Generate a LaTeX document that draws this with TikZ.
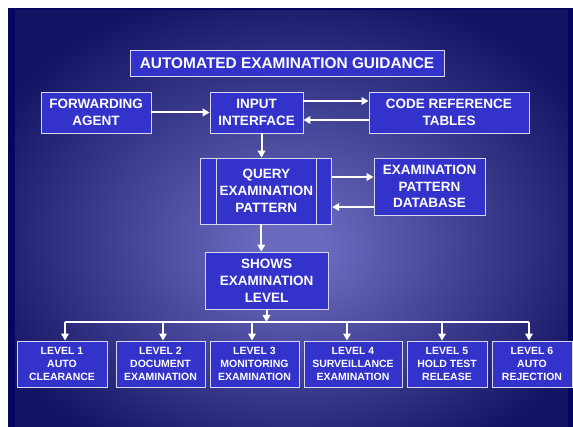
\documentclass[tikz,border=0pt]{standalone}
\usepackage{fontspec}
\setmainfont{Liberation Sans}
\usetikzlibrary{arrows.meta,positioning,calc}
\definecolor{bgdark}{RGB}{20,20,100}
\definecolor{bglight}{RGB}{106,106,190}
\definecolor{bgframe}{RGB}{6,6,96}
\definecolor{boxblue}{RGB}{51,51,204}
\definecolor{boxline}{RGB}{215,215,240}
\pgfdeclareradialshading{bgglow}{\pgfpoint{0bp}{-4bp}}{color(0bp)=(bglight); color(3bp)=(bglight); color(30bp)=(bgdark); color(50bp)=(bgdark)}

\begin{document}
\begin{tikzpicture}[x=1pt,y=-1pt,>={Triangle[length=7pt,width=7.5pt]},box/.style={draw=boxline,fill=boxblue,line width=0.8pt,text=white,font=\bfseries\fontsize{13.5}{16.8}\selectfont,align=center,inner sep=0pt},lvl/.style={box,font=\bfseries\fontsize{10.5}{12.8}\selectfont,minimum height=46pt},link/.style={white,line width=2pt}]
  \useasboundingbox (0,0) rectangle (573,427);
  \fill[white] (0,0) rectangle (573,427);
  \fill[bgframe] (8,8) rectangle (573,427);
  \shade[shading=bgglow] (15,11) rectangle (568,427);
  \node[box,minimum width=314pt,minimum height=26pt,font=\bfseries\fontsize{15.4}{18}\selectfont] (title) at (287,63) {AUTOMATED EXAMINATION GUIDANCE};
  \node[box,minimum width=110pt,minimum height=41pt] (fwd) at (96,112.5) {FORWARDING\\AGENT};
  \node[box,minimum width=93pt,minimum height=41pt] (input) at (256.5,112.5) {INPUT\\INTERFACE};
  \node[box,minimum width=160pt,minimum height=41pt] (code) at (449,112.5) {CODE REFERENCE\\TABLES};
  \node[box,minimum width=131pt,minimum height=66pt] (query) at (266.3,191) {QUERY\\EXAMINATION\\PATTERN};
  \node[box,minimum width=111pt,minimum height=57pt] (db) at (429.5,186.5) {EXAMINATION\\PATTERN\\DATABASE};
  \node[box,minimum width=123pt,minimum height=57pt] (shows) at (266.5,280.5) {SHOWS\\EXAMINATION\\LEVEL};
  \node[lvl,minimum width=90pt] (l1) at (62,364) {LEVEL 1\\AUTO\\CLEARANCE};
  \node[lvl,minimum width=89pt] (l2) at (160.5,364) {LEVEL 2\\DOCUMENT\\EXAMINATION};
  \node[lvl,minimum width=89pt] (l3) at (254.5,364) {LEVEL 3\\MONITORING\\EXAMINATION};
  \node[lvl,minimum width=98pt] (l4) at (353,364) {LEVEL 4\\SURVEILLANCE\\EXAMINATION};
  \node[lvl,minimum width=80pt] (l5) at (447,364) {LEVEL 5\\HOLD TEST\\RELEASE};
  \node[lvl,minimum width=80pt] (l6) at (532,364) {LEVEL 6\\AUTO\\REJECTION};
  \draw[boxline,line width=0.8pt] ($(query.north west)+(16,0)$) -- ($(query.south west)+(16,0)$);
  \draw[boxline,line width=0.8pt] ($(query.north east)+(-16,0)$) -- ($(query.south east)+(-16,0)$);
  \draw[link,->] (fwd.east) -- (input.west);
  \draw[link,->] ($(input.east)+(0,-11.5)$) -- ($(input.east -| code.west)+(0,-11.5)$);
  \draw[link,->] ($(code.west)+(0,7.5)$) -- ($(input.east |- code.west)+(0,7.5)$);
  \draw[link,->] ($(query.east)+(0,-14)$) -- ($(query.east -| db.west)+(0,-14)$);
  \draw[link,->] ($(query.east -| db.west)+(0,16)$) -- ($(query.east)+(0,16)$);
  \draw[link,->] ($(input.south)+(5,0)$) -- ($(input.south |- query.north)+(5,0)$);
  \draw[link,->] ($(query.south)+(-5,0)$) -- ($(query.south |- shows.north)+(-5,0)$);
  \coordinate (busl) at (65,322);
  \coordinate (busr) at (529,322);
  \draw[link] (busl) -- (busr);
  \draw[link,->] (shows.south) -- (shows.south |- busl);
  \draw[link,->] (busl) -- (busl |- l1.north);
  \draw[link,->] ($(l2.north |- busl)+(2.5,0)$) -- ($(l2.north)+(2.5,0)$);
  \draw[link,->] ($(l3.north |- busl)+(-2.5,0)$) -- ($(l3.north)+(-2.5,0)$);
  \draw[link,->] ($(l4.north |- busl)+(-6,0)$) -- ($(l4.north)+(-6,0)$);
  \draw[link,->] ($(l5.north |- busl)+(-5,0)$) -- ($(l5.north)+(-5,0)$);
  \draw[link,->] (busr) -- (busr |- l6.north);
\end{tikzpicture}
\end{document}
